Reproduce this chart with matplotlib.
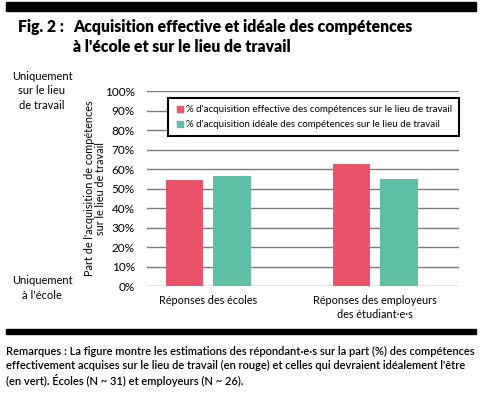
import matplotlib.pyplot as plt
import numpy as np
from matplotlib.lines import Line2D

# data
categories = ["Réponses des écoles", "Réponses des employeurs\ndes étudiant·e·s"]
effective = [54.6, 62.6]
ideal = [56.4, 54.7]
labels = ["% d'acquisition effective des compétences sur le lieu de travail",
          "% d'acquisition idéale des compétences sur le lieu de travail"]
yticks = [0, 10, 20, 30, 40, 50, 60, 70, 80, 90, 100]

red = "#E9546B"
green = "#5EBFA5"
plt.rcParams['font.family'] = ['Lato', 'DejaVu Sans']

fig = plt.figure(figsize=(4.8, 3.95), dpi=100)
ax = fig.add_axes([0.3069, 0.2752, 0.6494, 0.4944])

x = np.arange(len(categories))
w = 0.2235
off = 0.1426
ax.bar(x - off, effective, w, color=red, zorder=3)
ax.bar(x + off, ideal, w, color=green, zorder=3)

ax.set_ylim(0, 100)
ax.set_xlim(-0.3655, 1.502)
ax.set_yticks(yticks)
ax.set_yticklabels([f"{t}%" for t in yticks], fontsize=8.5)
ax.set_xticks(x)
ax.set_xticklabels(categories, fontsize=7.8, linespacing=1.35)
ax.tick_params(axis='y', length=0, pad=9)
ax.tick_params(axis='x', length=0, pad=6)
ax.yaxis.grid(True, color="#7a7a7a", linewidth=1.0, zorder=0)
for s in ax.spines.values():
    s.set_visible(False)

ax.set_ylabel("Part de l'acquisition de compétences\nsur le lieu de travail",
              fontsize=7.8, linespacing=0.95)
ax.yaxis.set_label_coords(-0.1325, 0.5)

handles = [Line2D([], [], marker='s', linestyle='', color=red, markersize=4.5),
           Line2D([], [], marker='s', linestyle='', color=green, markersize=4.5)]
leg = ax.legend(handles, labels, loc='upper left', bbox_to_anchor=(0.0674, 0.9626),
                borderaxespad=0, fontsize=7, handlelength=1.0, handletextpad=0.1,
                frameon=True, fancybox=False, edgecolor='black', framealpha=1,
                borderpad=0.7, labelspacing=0.6)
leg.get_frame().set_linewidth(1.5)
leg.set_zorder(5)

fig.text(0.0875, 1 - 91 / 395, "Uniquement\nsur le lieu\nde travail", ha='center', va='center',
         fontsize=8, linespacing=1.4)
fig.text(0.0875, 1 - 288 / 395, "Uniquement\nà l'école", ha='center', va='center',
         fontsize=8, linespacing=1.4)

# title and black bars
fig.patches.append(plt.Rectangle((6 / 480, 1 - 11 / 395), 470 / 480, 9 / 395,
                                 transform=fig.transFigure, color='black'))
fig.patches.append(plt.Rectangle((6 / 480, 1 - 334 / 395), 470 / 480, 5 / 395,
                                 transform=fig.transFigure, color='black'))
fig.text(18 / 480, 1 - 27 / 395, "Fig. 2 :", fontsize=11.3, fontweight='heavy', va='center')
fig.text(73 / 480, 1 - 19 / 395,
         "Acquisition effective et idéale des compétences\nà l'école et sur le lieu de travail",
         fontsize=11.3, fontweight='heavy', va='top', linespacing=1.3)

fig.text(6 / 480, 1 - 346 / 395,
         "Remarques : La figure montre les estimations des répondant·e·s sur la part (%) des compétences\n"
         "effectivement acquises sur le lieu de travail (en rouge) et celles qui devraient idéalement l'être\n"
         "(en vert). Écoles (N ~ 31) et employeurs (N ~ 26).",
         fontsize=8.0, fontweight='semibold', va='top', linespacing=1.3)

fig.savefig("out.png", dpi=100)
